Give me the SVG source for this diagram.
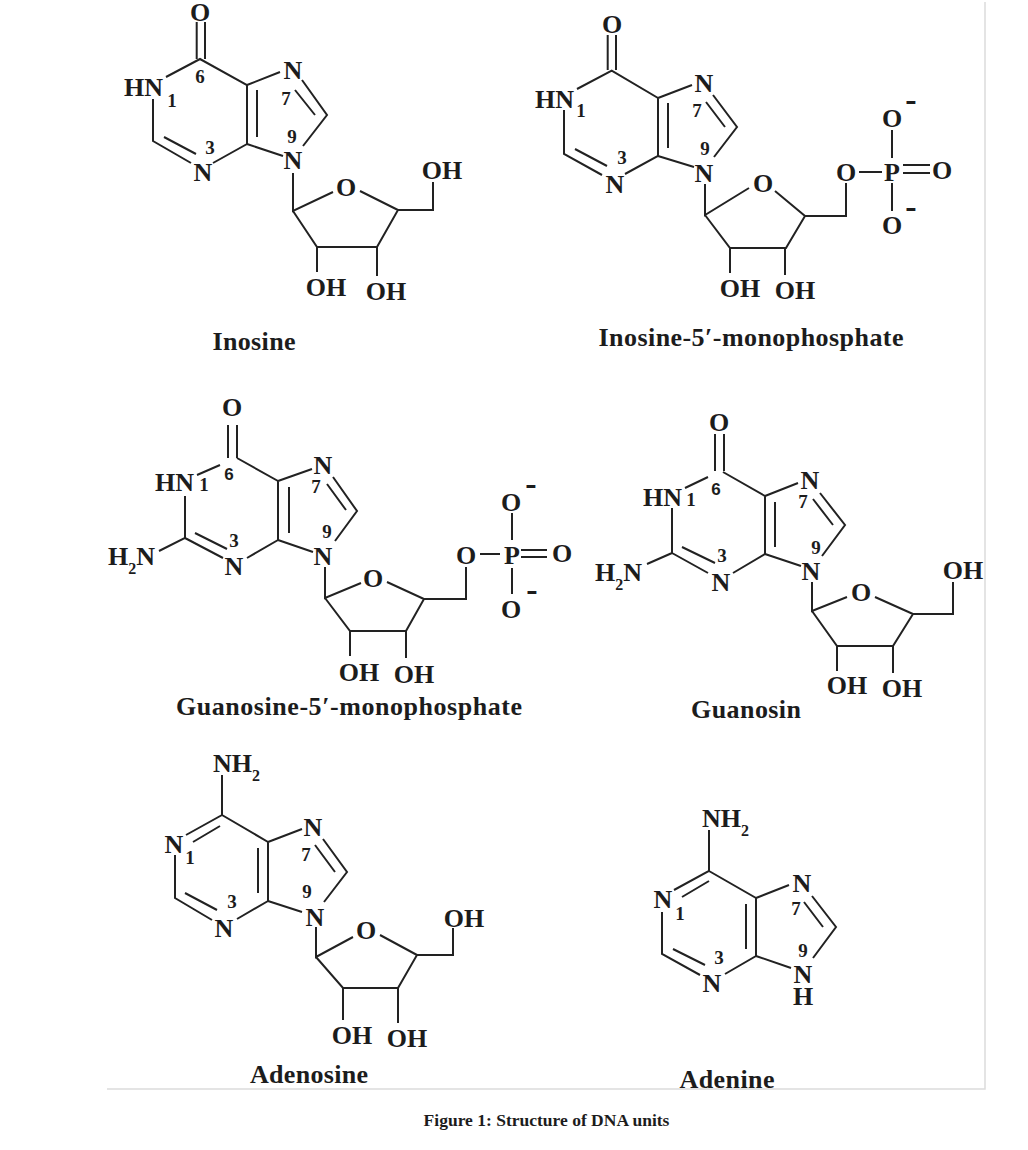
<svg xmlns="http://www.w3.org/2000/svg" width="1028" height="1150" viewBox="0 0 1028 1150">
<style>
text{font-family:"Liberation Serif","Times New Roman",serif;font-weight:700;fill:#1c1c1c;text-anchor:middle}
.a{font-size:26px}
.n{font-size:19px}
.l{font-size:26px}
.s{font-size:16px}
.st{text-anchor:start}
.m{font-size:34px}
.sans{font-family:"Liberation Sans",Arial,sans-serif;font-size:17px}
.cap{font-size:17.5px}
.b{fill:none;stroke:#222;stroke-width:2;stroke-linejoin:miter;stroke-linecap:butt}
.f{fill:none;stroke:#dcdcdc;stroke-width:1.5}
</style>
<rect width="1028" height="1150" fill="#fff"/>
<path class="f" d="M985 2V1089H107"/>

<g id="inosine">
<path class="b" d="M196.700 22V59M205 22V59M166 77L200 59L247 85L247 144L213 163M153 99V141L191 163M164 137L196 154M257 137V90M247 85L280 72M302 80L327 115L303 146M295 90L315 115M247 144L283 156M293 173V211L333 192M360 191L398 210L377 247H317L293 211M317 247V272M377 247V276M398 210H433V182"/>
<text class="a" x="200" y="21">O</text>
<text class="a st" x="124" y="96">HN</text>
<text class="n" x="172" y="107">1</text>
<text class="n" x="200" y="83">6</text>
<text class="a" x="293" y="79">N</text>
<text class="n" x="286" y="105">7</text>
<text class="n" x="292" y="143">9</text>
<text class="a" x="293" y="169">N</text>
<text class="n" x="210" y="154">3</text>
<text class="a" x="203" y="181">N</text>
<text class="a" x="346" y="196">O</text>
<text class="a" x="442" y="179">OH</text>
<text class="a" x="326" y="296">OH</text>
<text class="a" x="386" y="300">OH</text>
<text class="l" x="254" y="350" textLength="83">Inosine</text>
</g>

<g id="inosine-5-monophosphate">
<path class="b" d="M607.700 35V70M616 35V70M577 89L611.700 70.700L658 98V156L625 174M564 110V154L602 175M575 149L607 166M668 148V103M658 98L692 85M713 95L737 127L714 157M706 102L725 127M658 156L694 167M705 184V215L749 188M775 191L805 216L786 248H730L705 215M730 248V273M785 248V275M805 216H846V183M859 172H882M903 165H930M903 173H930M892 130V158M892 183V211"/>
<text class="a" x="612" y="33">O</text>
<text class="a st" x="535" y="108">HN</text>
<text class="n" x="581" y="117">1</text>
<text class="a" x="704" y="92">N</text>
<text class="n" x="697" y="117">7</text>
<text class="n" x="705" y="155">9</text>
<text class="a" x="704" y="182">N</text>
<text class="n" x="622" y="164">3</text>
<text class="a" x="615" y="193">N</text>
<text class="a" x="763" y="192">O</text>
<text class="a" x="846" y="181">O</text>
<text class="a" x="892" y="181">P</text>
<text class="a" x="942" y="179">O</text>
<text class="a" x="892" y="127">O</text>
<text class="m" x="911" y="111">-</text>
<text class="a" x="892" y="234">O</text>
<text class="m" x="911" y="218">-</text>
<text class="a" x="740" y="297">OH</text>
<text class="a" x="795" y="299">OH</text>
<text class="l" x="751" y="346" textLength="305">Inosine-5′-monophosphate</text>
</g>

<g id="guanosine-5-monophosphate">
<path class="b" d="M228 425V458M237 425V458M220 465L197 475M185 496V538L159 551M185 538L223 558M195 533L227 549M247 558L278 540V481L237 458M289 533V487M278 481L312 469M333 477L357 511L335 541M327 484L346 510M278 540L313 552M325 567V598L361 583M387 582L424 599L406 631H350L325 598M350 631V656M406 631V658M424 599H466V567M480 554H500M521 550H547M521 557H547M512 513V540M512 568V594"/>
<text class="a" x="232" y="416">O</text>
<text class="a st" x="155" y="491">HN</text>
<text class="n" x="204" y="491">1</text>
<text class="n sans" x="229" y="480">6</text>
<text class="a st" x="108" y="565">H<tspan class="s" dy="9">2</tspan><tspan dy="-9">N</tspan></text>
<text class="a" x="234" y="575">N</text>
<text class="n" x="234" y="547">3</text>
<text class="a" x="323" y="474">N</text>
<text class="n" x="316" y="493">7</text>
<text class="n" x="327" y="538">9</text>
<text class="a" x="323" y="565">N</text>
<text class="a" x="373" y="587">O</text>
<text class="a" x="466" y="564">O</text>
<text class="a" x="512" y="564">P</text>
<text class="a" x="562" y="562">O</text>
<text class="a" x="511" y="511">O</text>
<text class="m" x="531" y="495">-</text>
<text class="a" x="511" y="618">O</text>
<text class="m" x="532" y="601">-</text>
<text class="a" x="359" y="681">OH</text>
<text class="a" x="414" y="683">OH</text>
<text class="l" x="349" y="715" textLength="346">Guanosine-5′-monophosphate</text>
</g>

<g id="guanosin">
<path class="b" d="M715 434V471M724 434V471M708 477L685 488M672 508V553L647 564M672 553L708 573M682 547L715 563M733 573L765 554V496L723 472M775 547V502M765 496L798 483M820 493L845 525L822 556M813 499L833 525M765 554L801 566M812 582V611L847 597M875 597L913 614L893 646H837L812 611M837 646V671M893 646V673M913 614H953V582"/>
<text class="a" x="719" y="431">O</text>
<text class="a st" x="643" y="506">HN</text>
<text class="n" x="691" y="506">1</text>
<text class="n sans" x="716" y="495">6</text>
<text class="a st" x="595" y="581">H<tspan class="s" dy="9">2</tspan><tspan dy="-9">N</tspan></text>
<text class="a" x="721" y="591">N</text>
<text class="n" x="722" y="562">3</text>
<text class="a" x="810" y="489">N</text>
<text class="n" x="803" y="508">7</text>
<text class="n" x="816" y="554">9</text>
<text class="a" x="811" y="580">N</text>
<text class="a" x="861" y="601">O</text>
<text class="a" x="963" y="579">OH</text>
<text class="a" x="847" y="694">OH</text>
<text class="a" x="902" y="697">OH</text>
<text class="l" x="746" y="718" textLength="110">Guanosin</text>
</g>

<g id="adenosine">
<path class="b" d="M222 775V815L186 835M220 826L193 842M175 855V898L212 920M185 893L217 910M237 919L268 901V842L222 815M258 893V848M268 842L302 829M323 839L347 872L324 902M315 845L335 872M268 901L302 912M316 927V957L353 937M380 935L417 955L398 988H343L316 957M343 988V1020M398 988V1023M417 955H453V928"/>
<text class="a st" x="213" y="772">NH<tspan class="s" dy="9">2</tspan></text>
<text class="a" x="174" y="853">N</text>
<text class="n" x="190" y="864">1</text>
<text class="n" x="232" y="908">3</text>
<text class="a" x="224" y="937">N</text>
<text class="a" x="313" y="836">N</text>
<text class="n" x="306" y="861">7</text>
<text class="n" x="307" y="898">9</text>
<text class="a" x="315" y="926">N</text>
<text class="a" x="366" y="939">O</text>
<text class="a" x="464" y="927">OH</text>
<text class="a" x="352" y="1044">OH</text>
<text class="a" x="407" y="1047">OH</text>
<text class="l" x="309" y="1083" textLength="118">Adenosine</text>
</g>

<g id="adenine">
<path class="b" d="M709 830V871L674 890M709 881L682 897M662 912V954L700 975M673 949L705 965M725 974L756 956V898L709 871M746 949V904M756 898L789 885M812 896L836 927L813 958M804 902L823 927M756 956L791 968"/>
<text class="a st" x="702" y="827">NH<tspan class="s" dy="9">2</tspan></text>
<text class="a" x="663" y="908">N</text>
<text class="n" x="680" y="920">1</text>
<text class="n" x="719" y="964">3</text>
<text class="a" x="712" y="992">N</text>
<text class="a" x="802" y="892">N</text>
<text class="n" x="796" y="915">7</text>
<text class="n" x="803" y="957">9</text>
<text class="a" x="803" y="983">N</text>
<text class="a" x="803" y="1005">H</text>
<text class="l" x="727" y="1088" textLength="95">Adenine</text>
</g>

<text class="cap" x="546.500" y="1126">Figure 1: Structure of DNA units</text>
</svg>
